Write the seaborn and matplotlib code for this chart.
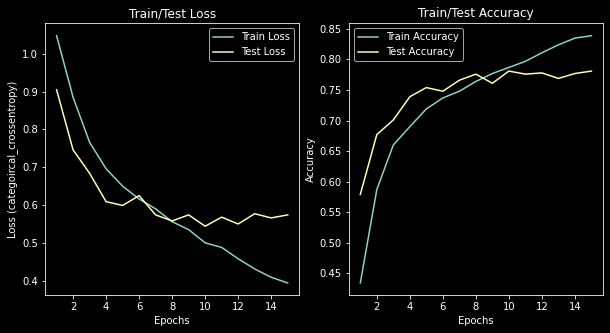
import matplotlib
matplotlib.use("Agg")
import matplotlib.pyplot as plt
import seaborn as sns
import numpy as np

epochs = list(range(1, 16))
train_loss = [1.048, 0.885, 0.766, 0.696, 0.650, 0.616, 0.590, 0.556, 0.535, 0.500,
              0.488, 0.458, 0.431, 0.409, 0.394]
test_loss = [0.905, 0.746, 0.684, 0.609, 0.599, 0.625, 0.574, 0.558, 0.574, 0.544,
             0.568, 0.550, 0.577, 0.566, 0.574]
train_acc = [0.434, 0.587, 0.660, 0.690, 0.719, 0.737, 0.748, 0.764, 0.777, 0.787,
             0.797, 0.811, 0.824, 0.835, 0.839]
test_acc = [0.579, 0.677, 0.701, 0.739, 0.754, 0.748, 0.766, 0.776, 0.761, 0.781,
            0.776, 0.778, 0.769, 0.777, 0.781]

plt.style.use("dark_background")
c_train = "#8dd3c7"
c_test = "#feffb3"

fig, (ax1, ax2) = plt.subplots(1, 2, figsize=(610 / 72, 333 / 72), dpi=72)
fig.subplots_adjust(left=0.0738, right=0.9885, top=0.930, bottom=0.1132, wspace=0.1947)

sns.lineplot(x=epochs, y=train_loss, ax=ax1, color=c_train, label="Train Loss")
sns.lineplot(x=epochs, y=test_loss, ax=ax1, color=c_test, label="Test Loss")
ax1.set_title("Train/Test Loss")
ax1.set_xlabel("Epochs")
ax1.set_ylabel("Loss (categoircal_crossentropy)")
ax1.legend(loc="upper right")

sns.lineplot(x=epochs, y=train_acc, ax=ax2, color=c_train, label="Train Accuracy")
sns.lineplot(x=epochs, y=test_acc, ax=ax2, color=c_test, label="Test Accuracy")
ax2.set_title("Train/Test Accuracy")
ax2.set_xlabel("Epochs")
ax2.set_ylabel("Accuracy")
ax2.legend(loc="upper left")

for ax in (ax1, ax2):
    ax.set_xticks([2, 4, 6, 8, 10, 12, 14])

fig.savefig("out.png", dpi=72)
